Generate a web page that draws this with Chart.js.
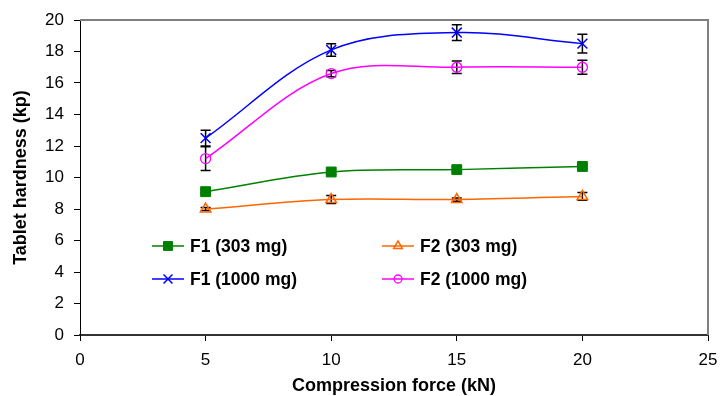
<!DOCTYPE html>
<html>
<head>
<meta charset="utf-8">
<script src="https://cdn.jsdelivr.net/npm/chart.js@4/dist/chart.umd.min.js"></script>
<style>
  html, body { margin: 0; padding: 0; background: #fff; }
  #wrap { width: 720px; height: 396px; }
</style>
</head>
<body>
<div id="wrap"><canvas id="c" width="720" height="396"></canvas></div>
<script>
// ---- data ----
const forces = [5, 10, 15, 20];               // Compression force (kN)
const f1_303  = [9.1, 10.35, 10.5, 10.7];
const f2_303  = [8.0, 8.6, 8.6, 8.8];
const f1_1000 = [12.5, 18.1, 19.2, 18.5];
const f2_1000 = [11.2, 16.6, 17.0, 17.0];
// standard deviations (error bars)
const f1_303Err  = [0.1, 0.15, 0.15, 0.1];
const f2_303Err  = [0.1, 0.25, 0.1, 0.25];
const f1_1000Err = [0.5, 0.4, 0.5, 0.6];
const f2_1000Err = [0.75, 0.2, 0.4, 0.45];
const seriesNames = ['F1 (303 mg)', 'F2 (303 mg)', 'F1 (1000 mg)', 'F2 (1000 mg)'];
const xTicks = [0, 5, 10, 15, 20, 25];
const yTicks = [0, 2, 4, 6, 8, 10, 12, 14, 16, 18, 20];

const FONT = "'Liberation Sans', Arial, sans-serif";

function pts(ys) { return forces.map((x, i) => ({ x: x, y: ys[i] })); }

const datasets = [
  { label: seriesNames[0], data: pts(f1_303), err: f1_303Err, borderColor: '#008000', backgroundColor: '#008000',
    pointStyle: 'rect', pointRadius: 7, pointBorderWidth: 1, pointBackgroundColor: '#008000', pointBorderColor: '#008000' },
  { label: seriesNames[1], data: pts(f2_303), err: f2_303Err, borderColor: '#FF6600', backgroundColor: '#FF6600',
    pointStyle: 'triangle', pointRadius: 6, pointBorderWidth: 1.5, pointBackgroundColor: 'rgba(255,255,255,0)', pointBorderColor: '#FF6600' },
  { label: seriesNames[2], data: pts(f1_1000), err: f1_1000Err, borderColor: '#0000FF', backgroundColor: '#0000FF',
    pointStyle: 'crossRot', pointRadius: 7, pointBorderWidth: 1.5, pointBackgroundColor: '#0000FF', pointBorderColor: '#0000FF' },
  { label: seriesNames[3], data: pts(f2_1000), err: f2_1000Err, borderColor: '#FF00FF', backgroundColor: '#FF00FF',
    pointStyle: 'circle', pointRadius: 5, pointBorderWidth: 1.3, pointBackgroundColor: 'rgba(255,255,255,0)', pointBorderColor: '#FF00FF' }
];
datasets.forEach(d => { d.borderWidth = 1.5; d.tension = 0.35; d.fill = false; d.pointHoverRadius = d.pointRadius; });

// error bars drawn through the scales (underneath the markers)
const errorBars = {
  id: 'errorBars',
  beforeDatasetsDraw(chart) {
    const ctx = chart.ctx, xs = chart.scales.x, ys = chart.scales.y;
    ctx.save();
    ctx.strokeStyle = '#000';
    ctx.lineWidth = 1.5;
    chart.data.datasets.forEach(ds => {
      ds.data.forEach((p, i) => {
        const e = ds.err[i];
        const px = xs.getPixelForValue(p.x);
        const top = ys.getPixelForValue(p.y + e);
        const bot = ys.getPixelForValue(p.y - e);
        ctx.beginPath();
        ctx.moveTo(px, top); ctx.lineTo(px, bot);
        ctx.moveTo(px - 5, top); ctx.lineTo(px + 5, top);
        ctx.moveTo(px - 5, bot); ctx.lineTo(px + 5, bot);
        ctx.stroke();
      });
    });
    ctx.restore();
  }
};

// gray top/right frame of the plot area
const frame = {
  id: 'frame',
  afterDraw(chart) {
    const a = chart.chartArea, ctx = chart.ctx;
    ctx.save();
    ctx.strokeStyle = '#808080';
    ctx.lineWidth = 2;
    ctx.beginPath();
    ctx.moveTo(a.left, a.top);
    ctx.lineTo(a.right, a.top);
    ctx.lineTo(a.right, a.bottom);
    ctx.stroke();
    ctx.restore();
  }
};

// legend inside the plot (two columns, two rows)
function marker(ctx, ds, x, y) {
  const r = ds.pointRadius;
  ctx.save();
  ctx.strokeStyle = ds.pointBorderColor;
  ctx.fillStyle = ds.pointBackgroundColor;
  ctx.lineWidth = ds.pointBorderWidth;
  ctx.beginPath();
  if (ds.pointStyle === 'rect') {
    const s = r * Math.SQRT1_2 * 0.9;
    ctx.rect(x - s, y - s, 2 * s, 2 * s); ctx.fill(); ctx.stroke();
  } else if (ds.pointStyle === 'triangle') {
    const rr = r * 0.85;
    ctx.moveTo(x, y - rr);
    ctx.lineTo(x + rr * 0.866, y + rr * 0.5);
    ctx.lineTo(x - rr * 0.866, y + rr * 0.5);
    ctx.closePath(); ctx.fill(); ctx.stroke();
  } else if (ds.pointStyle === 'crossRot') {
    const s = r * 0.75 * Math.SQRT1_2 * 1.2;
    ctx.moveTo(x - s, y - s); ctx.lineTo(x + s, y + s);
    ctx.moveTo(x + s, y - s); ctx.lineTo(x - s, y + s);
    ctx.stroke();
  } else {
    ctx.arc(x, y, r * 0.8, 0, Math.PI * 2); ctx.fill(); ctx.stroke();
  }
  ctx.restore();
}
const insideLegend = {
  id: 'insideLegend',
  afterDraw(chart) {
    const ctx = chart.ctx;
    const cols = [152, 382], rows = [246, 279];
    ctx.save();
    chart.data.datasets.forEach((ds, i) => {
      const x0 = cols[i % 2], y = rows[Math.floor(i / 2)];
      ctx.strokeStyle = ds.borderColor;
      ctx.lineWidth = 1.5;
      ctx.beginPath(); ctx.moveTo(x0, y); ctx.lineTo(x0 + 32, y); ctx.stroke();
      marker(ctx, ds, x0 + 16, y);
      ctx.fillStyle = '#000';
      ctx.font = 'bold 17.5px ' + FONT;
      ctx.textBaseline = 'middle';
      ctx.textAlign = 'left';
      ctx.fillText(ds.label, x0 + 38, y + 1);
    });
    ctx.restore();
  }
};

new Chart(document.getElementById('c'), {
  type: 'line',
  data: { datasets: datasets },
  plugins: [errorBars, frame, insideLegend],
  options: {
    responsive: false,
    animation: false,
    devicePixelRatio: 1,
    layout: { padding: { top: 20, right: 12, left: 0, bottom: 0 } },
    plugins: { legend: { display: false }, tooltip: { enabled: false } },
    scales: {
      x: {
        type: 'linear', min: 0, max: 25,
        afterBuildTicks(s) { s.ticks = xTicks.map(v => ({ value: v })); },
        afterFit(s) { s.height = 61; s.paddingLeft = 0; s.paddingRight = 0; },
        ticks: { color: '#000', font: { family: FONT, size: 17 }, padding: 9, maxRotation: 0 },
        grid: { drawOnChartArea: false, drawTicks: true, tickLength: 6, color: '#000', tickColor: '#000', lineWidth: 1 },
        border: { color: '#333', width: 2 },
        title: { display: true, text: 'Compression force (kN)', color: '#000',
                 font: { family: FONT, size: 18, weight: 'bold' }, padding: { top: 0, bottom: -1 } }
      },
      y: {
        type: 'linear', min: 0, max: 20,
        afterBuildTicks(s) { s.ticks = yTicks.map(v => ({ value: v })); },
        afterFit(s) { s.width = 80; s.paddingTop = 0; s.paddingBottom = 0; },
        ticks: { color: '#000', font: { family: FONT, size: 17 }, padding: 10 },
        grid: { drawOnChartArea: false, drawTicks: true, tickLength: 6, color: '#000', tickColor: '#000', lineWidth: 1 },
        border: { color: '#000', width: 1 },
        title: { display: true, text: 'Tablet hardness (kp)', color: '#000',
                 font: { family: FONT, size: 18, weight: 'bold' }, padding: { top: 10, bottom: 0 } }
      }
    }
  }
});
</script>
</body>
</html>
